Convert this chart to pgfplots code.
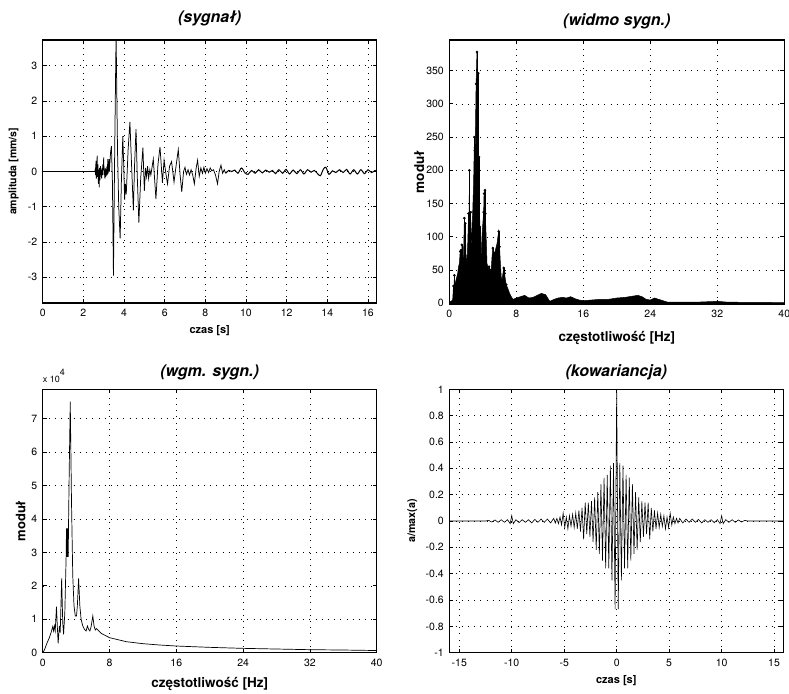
\documentclass[border=0pt]{standalone}
\usepackage{pgfplots}
\pgfplotsset{compat=1.18}
\usepackage{fontspec}
\setmainfont{TeX Gyre Heros}
\pgfplotsset{
 mstyle/.style={
   scale only axis, anchor=south west,
   axis line style={line width=1.1pt},
   grid=major, grid style={black, line width=0.6pt, dash pattern=on 0.7pt off 5.5pt},
   tick align=inside, major tick length=4pt, tick style={black, line width=0.8pt},
   ticklabel style={font=\fontsize{10.5}{12}\selectfont},
   xticklabel style={yshift=-3pt},
   yticklabel style={xshift=-2pt},
   title style={font=\fontsize{16}{18}\bfseries\itshape\selectfont, anchor=center, at={(0.5,1)}},
   xlabel style={at={(axis description cs:0.5,0)}, anchor=center},
   ylabel style={at={(axis description cs:0,0.5)}, anchor=center},
   clip mode=individual,
 }
}
\begin{document}
\begin{tikzpicture}
\useasboundingbox (0,0) rectangle (789pt,693pt);
% ---------------- A: sygnal
\begin{axis}[mstyle, at={(42.7pt,390pt)}, width=334pt, height=263pt,
  xmin=0, xmax=16.43, ymin=-3.73, ymax=3.73,
  xtick={0,2,...,16}, xticklabels={0,2,4,6,8,10,12,14,16},
  ytick={-3,-2,-1,0,1,2,3}, yticklabels={-3,-2,-1,0,1,2,3},
  title={(sygnał)}, title style={yshift=15.5pt},
  xlabel={czas [s]}, xlabel style={yshift=-28pt, font=\fontsize{11}{13}\bfseries\selectfont},
  ylabel={amplituda [mm/s]}, ylabel style={yshift=29pt, font=\fontsize{10.5}{12}\bfseries\selectfont},
]
\addplot[black, line width=0.75pt] coordinates {
(0,0)(2.56,0)(2.58,0.05)(2.60,-0.1)(2.62,0.3)(2.64,-0.2)(2.66,0.1)(2.68,0.45)(2.70,-0.15)(2.72,0.2)(2.74,-0.35)(2.76,0.05)(2.78,-0.45)(2.80,0.1)(2.82,-0.25)(2.84,0.15)(2.86,-0.1)(2.88,0.05)(2.90,-0.2)(2.92,0.1)(2.94,-0.1)(2.96,0.2)(2.98,0.05)(3.00,0.4)(3.02,-0.1)(3.04,0.05)(3.06,-0.2)(3.08,0.1)(3.10,-0.15)(3.12,0.0)(3.14,-0.05)(3.16,0.15)(3.18,-0.1)(3.20,0.35)(3.22,-0.05)(3.24,0.1)(3.26,0.35)(3.28,0.0)(3.30,0.2)
(3.34,0.55)(3.38,0.72)(3.43,-0.3)(3.48,-2.95)(3.54,0.5)(3.61,3.9)(3.68,0.6)(3.74,-1.0)(3.81,-1.9)(3.87,-0.3)(3.94,1.0)(3.99,0.1)(4.03,-0.8)(4.07,-0.35)(4.11,-0.65)(4.20,0.6)(4.29,1.41)(4.37,0.2)(4.46,-1.1)(4.52,0.2)(4.59,1.2)(4.65,-0.1)(4.73,-1.45)(4.82,-0.2)(4.93,0.68)(5.00,-0.55)(5.06,0.1)(5.11,-0.15)(5.16,0.15)(5.21,-0.2)(5.27,0.05)(5.32,-0.1)(5.44,0.35)(5.57,-0.78)(5.67,0.2)(5.77,0.7)(5.89,-0.32)(5.97,0.32)(6.07,-0.1)(6.14,-0.35)(6.24,0.15)(6.34,0.28)(6.46,-0.3)(6.57,0.2)(6.67,0.62)(6.76,-0.1)(6.84,-0.58)(6.93,0.0)(7.00,0.12)(7.07,-0.08)(7.15,0.05)(7.22,-0.1)(7.30,0.05)(7.38,-0.1)(7.46,-0.35)(7.55,0.1)(7.62,0.32)(7.70,-0.14)(7.78,0.1)(7.86,-0.05)(7.93,0.12)(8.00,-0.05)(8.08,0.08)(8.16,-0.03)(8.24,0.1)(8.32,0.02)(8.40,0.05)(8.50,-0.1)(8.60,-0.35)(8.68,0.0)(8.77,0.18)(8.85,-0.05)(8.93,0.05)(9.00,-0.05)
};
\addplot[black, line width=1pt, smooth, tension=0.5] coordinates {
(9.00,-0.05)(9.15,0.03)(9.30,0.0)(9.45,0.04)(9.60,-0.05)(9.78,0.1)(9.95,-0.04)(10.10,-0.08)(10.28,0.03)(10.45,-0.05)(10.62,0.05)(10.80,-0.04)(10.97,0.04)(11.15,-0.02)(11.30,0.03)(11.45,-0.06)(11.62,0.05)(11.80,-0.05)(11.97,0.06)(12.14,-0.07)(12.32,0.04)(12.50,-0.06)(12.68,0.05)(12.85,-0.07)(13.03,0.05)(13.20,-0.02)(13.36,0.03)(13.52,-0.06)(13.66,-0.12)(13.80,0.06)(13.93,0.12)(14.08,-0.08)(14.25,0.02)(14.42,-0.03)(14.60,0.05)(14.78,-0.03)(14.95,0.06)(15.12,-0.07)(15.30,0.05)(15.48,-0.07)(15.65,0.05)(15.83,-0.06)(16.00,0.05)(16.18,-0.03)(16.35,0.03)(16.43,0.0)
};
\end{axis}
% ---------------- B: widmo
\begin{axis}[mstyle, at={(449.3pt,389pt)}, width=335pt, height=264pt,
  xmin=0, xmax=40, ymin=-1, ymax=396,
  xtick={0,8,...,40}, xticklabels={0,8,16,24,32,40},
  ytick={0,50,...,350}, yticklabels={0,50,100,150,200,250,300,350},
  title={(widmo sygn.)}, title style={yshift=12.5pt},
  xlabel={częstotliwość [Hz]}, xlabel style={yshift=-34pt, font=\fontsize{13.5}{15}\bfseries\selectfont},
  ylabel={moduł}, ylabel style={yshift=30pt, font=\fontsize{13.5}{15}\bfseries\selectfont},
]
\addplot[black, fill=black, line width=0.5pt] coordinates {
(0.0,2)(0.2,3)(0.4,5)(0.5,26)(0.55,10)(0.6,42)(0.65,20)(0.7,30)(0.8,35)(0.9,40)(1.0,45)(1.1,55)(1.2,60)(1.3,78)(1.4,80)(1.45,60)(1.5,88)(1.6,65)(1.7,72)(1.8,128)(1.85,100)(1.9,120)(2.0,70)(2.1,60)(2.2,90)(2.3,135)(2.35,100)(2.4,200)(2.45,120)(2.5,105)(2.55,137)(2.6,80)(2.7,110)(2.8,140)(2.9,180)(3.0,250)(3.05,230)(3.1,240)(3.2,330)(3.3,378)(3.4,300)(3.45,346)(3.5,220)(3.55,220)(3.6,150)(3.65,115)(3.7,90)(3.8,70)(3.9,100)(4.0,120)(4.1,137)(4.15,165)(4.25,170)(4.3,135)(4.4,100)(4.5,60)(4.6,55)(4.7,50)(4.8,55)(4.9,45)(5.0,50)(5.1,70)(5.2,83)(5.3,78)(5.4,75)(5.5,80)(5.6,85)(5.7,90)(5.8,100)(5.9,108)(6.0,85)(6.1,60)(6.2,40)(6.3,35)(6.4,45)(6.5,53)(6.6,45)(6.7,35)(6.8,28)(6.9,25)(7.0,22)(7.2,15)(7.4,10)(7.6,6)(8.0,8)(8.5,10)(9.0,12)(9.5,8)(10,9)(10.5,12)(11,15)(11.5,13)(12,3)(12.5,6)(13,8)(13.5,9)(14,8)(14.5,10)(15,7)(15.5,5)(16,4)(17,5)(18,6)(19,6)(20,8)(21,9)(22,11)(22.5,12)(23,10)(23.5,6)(24,5)(24.5,8)(25,6)(26,2)(27,2)(28,2)(30,2)(32,3)(33,2)(35,1.5)(37,1.5)(40,1)
} \closedcycle;
\addplot[black, ycomb, line width=0.4pt, mark=*, mark size=1.1pt] coordinates {
(0.5,26)(0.6,42)(1.3,78)(1.4,80)(1.5,88)(1.8,128)(1.9,120)(2.3,135)(2.4,200)(2.55,137)(2.7,105)(3.0,250)(3.05,230)(3.2,330)(3.3,378)(3.45,346)(3.55,220)(3.65,115)(4.1,137)(4.15,165)(4.25,170)(4.3,135)(4.75,55)(4.9,50)(5.2,83)(5.4,75)(5.9,108)(6.0,85)(6.5,53)(6.6,45)(6.8,28)
};
\end{axis}
% ---------------- C: wgm
\begin{axis}[mstyle, at={(42.7pt,40.3pt)}, width=334pt, height=263.4pt,
  xmin=0, xmax=40, ymin=0, ymax=7.88,
  xtick={0,8,...,40}, xticklabels={0,8,16,24,32,40},
  ytick={0,1,...,7}, yticklabels={0,1,2,3,4,5,6,7},
  title={(wgm. sygn.)}, title style={yshift=11.3pt},
  xlabel={częstotliwość [Hz]}, xlabel style={yshift=-31pt, font=\fontsize{13.5}{15}\bfseries\selectfont},
  ylabel={moduł}, ylabel style={yshift=22pt, font=\fontsize{13}{15}\bfseries\selectfont},
]
\addplot[black, line width=0.7pt] coordinates {
(0,0)(0.2,0.08)(0.5,0.28)(0.8,0.45)(1.0,0.6)(1.2,0.78)(1.3,0.65)(1.4,0.8)(1.5,0.65)(1.65,1.38)(1.75,0.8)(1.85,0.28)(2.0,0.8)(2.1,0.6)(2.27,2.22)(2.4,0.9)(2.5,0.55)(2.65,1.2)(2.8,2.8)(2.85,3.72)(2.88,2.87)(2.91,3.72)(2.94,2.87)(2.97,3.72)(3.00,2.87)(3.03,3.72)(3.06,2.87)(3.09,3.75)(3.18,5.5)(3.3,7.51)(3.45,4.5)(3.6,2.3)(3.75,1.4)(3.9,1.1)(4.05,1.1)(4.15,1.4)(4.3,2.22)(4.45,1.4)(4.6,1.0)(4.8,0.8)(5.0,0.7)(5.2,0.65)(5.35,0.8)(5.5,0.7)(5.65,0.65)(5.8,0.78)(6.0,1.1)(6.15,0.8)(6.3,0.68)(6.45,0.72)(6.6,0.68)(7.0,0.58)(8,0.45)(10,0.33)(12,0.27)(14,0.23)(16,0.2)(20,0.16)(24,0.13)(28,0.11)(32,0.09)(36,0.08)(40,0.065)
};
\node[anchor=base west, font=\fontsize{9}{10}\selectfont, inner sep=0pt] at (axis description cs:0,1) [yshift=7pt] {x 10\raisebox{7pt}{4}};
\end{axis}
% ---------------- D: kowariancja
\begin{axis}[mstyle, at={(449.3pt,40.3pt)}, width=334pt, height=263.4pt,
  xmin=-15.95, xmax=15.88, ymin=-1, ymax=1,
  xtick={-15,-10,...,15}, xticklabels={-15,-10,-5,0,5,10,15},
  ytick={-1,-0.8,...,1.01}, yticklabels={-1,-0.8,-0.6,-0.4,-0.2,0,0.2,0.4,0.6,0.8,1},
  title={(kowariancja)}, title style={yshift=11.3pt},
  xlabel={czas [s]}, xlabel style={yshift=-28pt, font=\fontsize{11}{13}\bfseries\selectfont},
  ylabel={a/max(a)}, ylabel style={yshift=37pt, font=\fontsize{10.7}{12}\bfseries\selectfont},
]
\addplot[black, line width=0.6pt] coordinates {
(-15.95,0)(-12.5,0)(-12.2,0.005)(-11.9,-0.008)(-11.6,0.008)(-11.3,-0.01)(-11.0,0.01)(-10.7,-0.01)(-10.4,0.01)(-10.15,-0.02)(-10.0,0.04)(-9.85,-0.02)(-9.6,0.01)(-9.3,-0.012)(-9.0,0.01)(-8.7,-0.01)(-8.4,0.01)(-8.1,-0.015)(-7.8,0.012)(-7.5,-0.01)(-7.2,0.015)(-6.9,-0.01)(-6.6,0.015)(-6.3,-0.015)(-6.0,0.02)(-5.85,-0.015)(-5.70,0.02)(-5.55,-0.02)(-5.40,0.03)(-5.25,-0.03)(-5.10,0.06)(-4.95,-0.05)(-4.80,0.03)(-4.65,-0.06)(-4.50,0.04)(-4.35,-0.04)(-4.20,0.05)(-4.05,-0.05)(-3.90,0.06)(-3.75,-0.06)(-3.60,0.08)(-3.45,-0.08)(-3.30,0.10)(-3.15,-0.14)(-3.00,0.14)(-2.85,-0.10)(-2.70,0.14)(-2.55,-0.12)(-2.40,0.15)(-2.25,-0.16)(-2.10,0.18)(-1.95,-0.22)(-1.80,0.22)(-1.65,-0.25)(-1.50,0.28)(-1.35,-0.30)(-1.20,0.33)(-1.05,-0.36)(-0.90,0.35)(-0.75,-0.36)(-0.60,0.42)(-0.45,-0.45)(-0.30,0.44)(-0.15,-0.67)
(0,1.0)
(0.15,-0.67)(0.30,0.44)(0.45,-0.45)(0.60,0.42)(0.75,-0.36)(0.90,0.35)(1.05,-0.36)(1.20,0.33)(1.35,-0.30)(1.50,0.28)(1.65,-0.25)(1.80,0.22)(1.95,-0.22)(2.10,0.18)(2.25,-0.16)(2.40,0.15)(2.55,-0.12)(2.70,0.14)(2.85,-0.10)(3.00,0.14)(3.15,-0.14)(3.30,0.10)(3.45,-0.08)(3.60,0.08)(3.75,-0.06)(3.90,0.06)(4.05,-0.05)(4.20,0.05)(4.35,-0.04)(4.50,0.04)(4.65,-0.06)(4.80,0.03)(4.95,-0.05)(5.10,0.06)(5.25,-0.03)(5.40,0.03)(5.55,-0.02)(5.70,0.02)(5.85,-0.015)(6.0,0.02)(6.3,-0.015)(6.6,0.015)(6.9,-0.01)(7.2,0.015)(7.5,-0.01)(7.8,0.012)(8.1,-0.015)(8.4,0.01)(8.7,-0.01)(9.0,0.01)(9.3,-0.012)(9.6,0.01)(9.85,-0.02)(10.0,0.04)(10.15,-0.02)(10.4,0.01)(10.7,-0.01)(11.0,0.01)(11.3,-0.01)(11.6,0.008)(11.9,-0.008)(12.2,0.005)(12.5,0)(15.88,0)
};
\end{axis}
\end{tikzpicture}
\end{document}
